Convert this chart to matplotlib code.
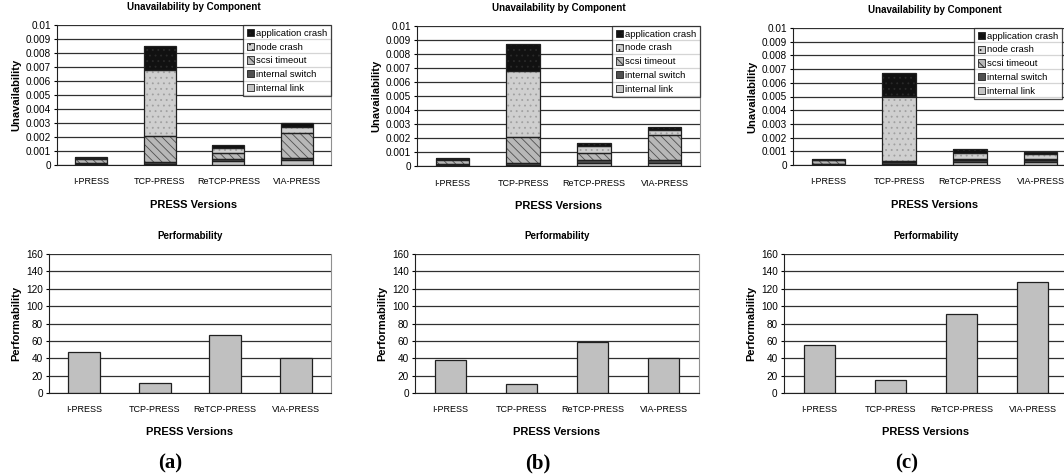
import matplotlib
matplotlib.use("Agg")
import matplotlib.pyplot as plt
from matplotlib.patches import Patch

plt.rcParams['font.family'] = ['Liberation Sans', 'DejaVu Sans']
plt.rcParams['hatch.linewidth'] = 0.6

versions = ['I-PRESS', 'TCP-PRESS', 'ReTCP-PRESS', 'VIA-PRESS']
components = ['internal link', 'internal switch', 'scsi timeout', 'node crash', 'application crash']

# unavailability per component, stacked bottom -> top (a), (b), (c)
unav_a = {
    'internal link':     [0.00010, 0.00010, 0.00026, 0.00033],
    'internal switch':   [0.00002, 0.00015, 0.00017, 0.00017],
    'scsi timeout':      [0.00030, 0.00185, 0.00045, 0.00180],
    'node crash':        [0.00005, 0.00470, 0.00036, 0.00040],
    'application crash': [0.00008, 0.00170, 0.00022, 0.00030],
}
unav_b = {
    'internal link':     [0.00010, 0.00005, 0.00025, 0.00025],
    'internal switch':   [0.00002, 0.00015, 0.00015, 0.00015],
    'scsi timeout':      [0.00030, 0.00190, 0.00050, 0.00180],
    'node crash':        [0.00005, 0.00470, 0.00050, 0.00040],
    'application crash': [0.00008, 0.00190, 0.00025, 0.00020],
}
unav_c = {
    'internal link':     [0.00008, 0.00010, 0.00025, 0.00025],
    'internal switch':   [0.00002, 0.00015, 0.00015, 0.00015],
    'scsi timeout':      [0.00025, 0.00005, 0.00005, 0.00005],
    'node crash':        [0.00004, 0.00470, 0.00045, 0.00033],
    'application crash': [0.00006, 0.00170, 0.00025, 0.00017],
}
perf_a = [47, 11, 67, 40]
perf_b = [38, 10, 59, 40]
perf_c = [55, 15, 91, 128]

unav_ticks = [0, 0.001, 0.002, 0.003, 0.004, 0.005, 0.006, 0.007, 0.008, 0.009, 0.01]
unav_ticklabels = ['0', '0.001', '0.002', '0.003', '0.004', '0.005', '0.006', '0.007', '0.008', '0.009', '0.01']
perf_ticks = [0, 20, 40, 60, 80, 100, 120, 140, 160]

# look of each component: face colour, hatch colour, hatch
looks = {
    'internal link':     ('#c4c4c4', '#c4c4c4', None),
    'internal switch':   ('#505050', '#505050', None),
    'scsi timeout':      ('#b8b8b8', '#505050', '\\\\\\\\'),
    'node crash':        ('#cfcfcf', '#a0a0a0', '...'),
    'application crash': ('#111111', '#2a2a2a', '...'),
}

W, H = 1064, 476
fig = plt.figure(figsize=(W / 100, H / 100), dpi=100)


def rect(l, t, r, b):
    return [l / W, 1 - b / H, (r - l) / W, (b - t) / H]


def style_axes(ax):
    ax.set_xlim(-0.5, 3.5)
    ax.grid(axis='y', color='#303030', lw=0.9)
    ax.set_axisbelow(True)
    ax.spines['top'].set_visible(False)
    ax.spines['right'].set_color('#909090')
    ax.spines['left'].set_color('#202020')
    ax.spines['bottom'].set_color('#202020')
    ax.tick_params(axis='x', length=0, labelsize=6.5, pad=9)
    ax.tick_params(axis='y', length=2.5, labelsize=7.2, pad=2)
    ax.set_xticks(range(4))
    ax.set_xticklabels(versions)


def unav_panel(box, data, leg_left=None):
    ax = fig.add_axes(rect(*box))
    bottom = [0.0] * 4
    for comp in components:
        fc, hc, hatch = looks[comp]
        vals = data[comp]
        ax.bar(range(4), vals, 0.47, bottom=bottom, color=fc, edgecolor=hc,
               hatch=hatch, lw=0, zorder=2)
        ax.bar(range(4), vals, 0.47, bottom=bottom, fill=False,
               edgecolor='#202020', lw=0.9, zorder=3)
        bottom = [b + v for b, v in zip(bottom, vals)]
    style_axes(ax)
    ax.set_ylim(0, 0.01)
    ax.set_yticks(unav_ticks)
    ax.set_yticklabels(unav_ticklabels)
    ax.set_title('Unavailability by Component', fontsize=7, fontweight='bold', pad=11)
    ax.set_ylabel('Unavailability', fontsize=8, fontweight='bold', labelpad=3)
    ax.set_xlabel('PRESS Versions', fontsize=8, fontweight='bold', labelpad=10)
    handles = []
    for comp in reversed(components):
        fc, hc, hatch = looks[comp]
        handles.append(Patch(facecolor=fc, edgecolor='#202020', hatch=hatch, lw=0.6,
                             label=comp))
    kw = dict(loc='upper right', borderaxespad=0)
    if leg_left is not None:
        kw = dict(loc='upper left', bbox_to_anchor=(leg_left / W, 1 - box[1] / H),
                  bbox_transform=fig.transFigure, borderaxespad=0)
    leg = ax.legend(handles=handles, fontsize=6.8, frameon=True, fancybox=False,
                    handlelength=0.8, handleheight=0.8, handletextpad=0.2,
                    labelspacing=0.5, borderpad=0.4, **kw)
    leg.get_frame().set_edgecolor('#202020')
    leg.get_frame().set_linewidth(0.9)
    leg.set_zorder(5)
    return ax


def perf_panel(box, vals, tag, tag_x):
    ax = fig.add_axes(rect(*box))
    ax.bar(range(4), vals, 0.45, color='#c0c0c0', edgecolor='#202020', lw=0.9, zorder=2)
    style_axes(ax)
    ax.set_ylim(0, 160)
    ax.set_yticks(perf_ticks)
    ax.set_title('Performability', fontsize=7, fontweight='bold', pad=11)
    ax.set_ylabel('Performability', fontsize=8, fontweight='bold', labelpad=3)
    ax.set_xlabel('PRESS Versions', fontsize=8, fontweight='bold', labelpad=9)
    fig.text(tag_x / W, 1 - 463 / H, tag, fontsize=15, fontweight='bold',
             family=['Liberation Serif', 'DejaVu Serif'], ha='center', va='center')
    return ax


unav_panel((57, 25, 331, 165), unav_a)
unav_panel((417, 26, 700, 166), unav_b)
unav_panel((793, 28, 1076, 165), unav_c, leg_left=974)

perf_panel((49, 254, 331, 393), perf_a, '(a)', 170)
perf_panel((415, 254, 699, 393), perf_b, '(b)', 538)
perf_panel((784, 254, 1068, 393), perf_c, '(c)', 907)

fig.savefig('out.png', dpi=100)
